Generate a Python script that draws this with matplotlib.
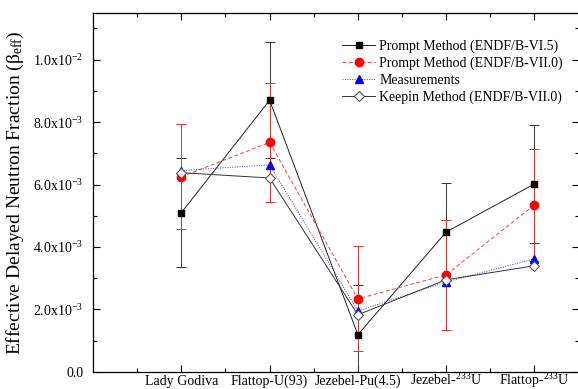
import numpy as np
import matplotlib
matplotlib.use("Agg")
from matplotlib import pyplot as plt
from matplotlib.ticker import FixedLocator, FixedFormatter, MultipleLocator

plt.rcParams['font.family'] = ['Liberation Serif', 'DejaVu Serif']
plt.rcParams['mathtext.default'] = 'regular'

# data
categories = ['Lady Godiva', 'Flattop-U(93)', 'Jezebel-Pu(4.5)',
              'Jezebel-$^{233}$U', 'Flattop-$^{233}$U']
prompt_vi5 = [5.10e-3, 8.70e-3, 1.19e-3, 4.48e-3, 6.02e-3]
prompt_vi5_err = [1.75e-3, 1.85e-3, 1.60e-3, 1.57e-3, 1.88e-3]
prompt_vii0 = [6.25e-3, 7.35e-3, 2.34e-3, 3.11e-3, 5.35e-3]
prompt_vii0_err = [1.68e-3, 1.90e-3, 1.68e-3, 1.76e-3, 1.80e-3]
measurements = [6.45e-3, 6.63e-3, 1.95e-3, 2.88e-3, 3.62e-3]
keepin_vii0 = [6.38e-3, 6.21e-3, 1.83e-3, 2.95e-3, 3.40e-3]

ytick_values = [0.0, 2.0e-3, 4.0e-3, 6.0e-3, 8.0e-3, 1.0e-2]
ytick_labels = ['0.0', '2.0x10$^{-3}$', '4.0x10$^{-3}$', '6.0x10$^{-3}$',
                '8.0x10$^{-3}$', '1.0x10$^{-2}$']

x = np.arange(1, len(categories) + 1)

fig = plt.figure(figsize=(5.78, 3.89), dpi=100)
ax = fig.add_axes([0.161, 0.044, 0.84, 0.923])

# error bars first, red ones on top of the black ones
ax.errorbar(x, prompt_vi5, yerr=prompt_vi5_err, fmt='none', ecolor='#333333',
            elinewidth=0.7, capsize=3.5, capthick=0.7, zorder=2)
ax.errorbar(x, prompt_vii0, yerr=prompt_vii0_err, fmt='none', ecolor='#e03030',
            elinewidth=0.7, capsize=3.5, capthick=0.7, zorder=3)

ax.plot(x, prompt_vi5, color='#222222', lw=0.7, marker='s', ms=5,
        mfc='k', mec='k', label='Prompt Method (ENDF/B-VI.5)', zorder=5)
ax.plot(x, prompt_vii0, color='#f04040', lw=0.7, ls=(0, (4, 2.5)), marker='o', ms=6,
        mfc='red', mec='red', label='Prompt Method (ENDF/B-VII.0)', zorder=5)
ax.plot(x, measurements, color='#4040d0', lw=0.7, ls=(0, (1, 1.5)), marker='^', ms=6,
        mfc='blue', mec='blue', label='Measurements', zorder=4)
ax.plot(x, keepin_vii0, color='#333333', lw=0.7, marker='D', ms=5,
        mfc='white', mec='#555555', mew=0.8, label='Keepin Method (ENDF/B-VII.0)', zorder=6)

ax.set_xlim(0, 5.5)
ax.set_ylim(0, 0.0115)
ax.xaxis.set_major_locator(FixedLocator(x))
ax.xaxis.set_major_formatter(FixedFormatter(categories))
ax.xaxis.set_minor_locator(FixedLocator(np.arange(0.5, 5.6, 1.0)))
ax.yaxis.set_major_locator(FixedLocator(ytick_values))
ax.yaxis.set_major_formatter(FixedFormatter(ytick_labels))
ax.yaxis.set_minor_locator(MultipleLocator(1e-3))
ax.tick_params(which='both', direction='in', top=True, right=True, width=0.8)
ax.tick_params(which='major', length=5, labelsize=10)
ax.tick_params(axis='y', which='major', pad=7)
ax.tick_params(axis='x', which='major', pad=9.5)
ax.tick_params(which='minor', length=3)
for lbl in ax.get_xticklabels():
    lbl.set_verticalalignment('baseline')
for s in ax.spines.values():
    s.set_linewidth(0.9)

ax.set_ylabel('Effective Delayed Neutron Fraction ($\\beta_{eff}$)', fontsize=14, labelpad=5)

ax.legend(loc='upper right', bbox_to_anchor=(0.985, 0.95), frameon=False, fontsize=10,
          handlelength=2.4, handletextpad=0.3, labelspacing=0.27, borderaxespad=0.2)

fig.savefig('out.png', dpi=100)
